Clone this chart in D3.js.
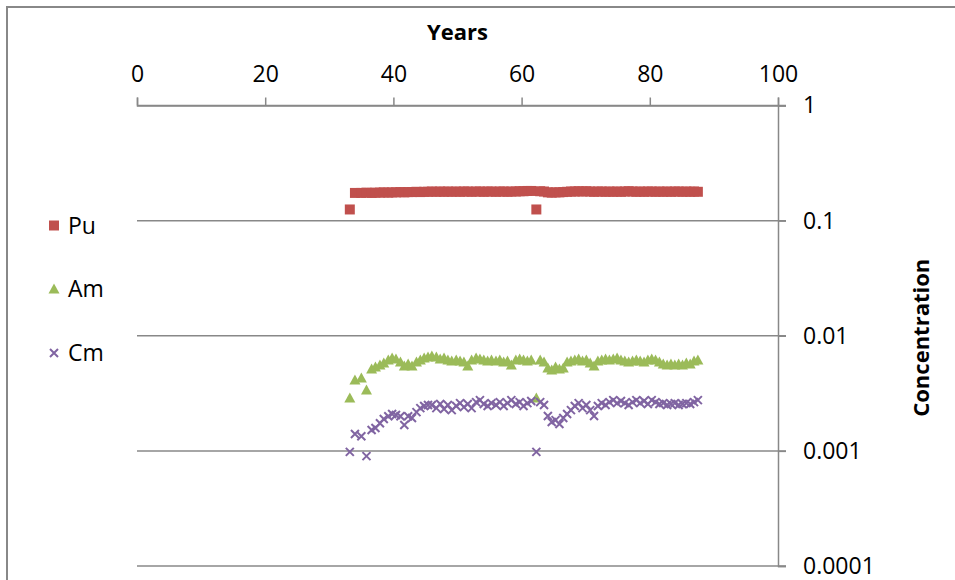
<!DOCTYPE html>
<html>
<head>
<meta charset="utf-8">
<script src="https://cdn.jsdelivr.net/npm/d3@7"></script>
<style>
  html, body { margin: 0; padding: 0; background: #fff; }
  svg { display: block; font-family: "Open Sans", "Liberation Sans", sans-serif; }
</style>
</head>
<body>
<svg id="chart" width="955" height="580"></svg>
<script>
// Sampling times (years)
const years = [
  33.2, 34.0, 35.0, 35.8, 36.6, 37.2, 37.9, 38.5, 39.2, 39.8,
  40.4, 41.1, 41.7, 42.3, 42.9, 43.6, 44.2, 44.8, 45.4, 46.0,
  46.7, 47.3, 47.9, 48.5, 49.1, 49.8, 50.4, 51.0, 51.6, 52.2,
  52.9, 53.5, 54.1, 54.7, 55.3, 56.0, 56.6, 57.2, 57.8, 58.4,
  59.1, 59.7, 60.3, 60.9, 61.5, 62.3, 62.9, 63.5, 64.1, 64.7,
  65.3, 65.9, 66.5, 67.1, 67.7, 68.3, 68.9, 69.5, 70.1, 70.7,
  71.3, 71.9, 72.5, 73.1, 73.7, 74.3, 74.9, 75.5, 76.1, 76.7,
  77.3, 77.9, 78.5, 79.1, 79.7, 80.3, 80.9, 81.5, 82.1, 82.7,
  83.3, 83.9, 84.5, 85.1, 85.7, 86.3, 86.9, 87.5
];

const pu = [
  0.125, 0.174, 0.174, 0.175, 0.174, 0.175, 0.175, 0.176, 0.175, 0.176,
  0.176, 0.177, 0.176, 0.177, 0.177, 0.178, 0.177, 0.178, 0.178, 0.179,
  0.178, 0.179, 0.178, 0.179, 0.178, 0.179, 0.178, 0.179, 0.179, 0.178,
  0.179, 0.179, 0.178, 0.179, 0.179, 0.178, 0.179, 0.179, 0.178, 0.179,
  0.179, 0.180, 0.180, 0.181, 0.181, 0.125, 0.180, 0.179, 0.176, 0.175,
  0.176, 0.176, 0.177, 0.178, 0.179, 0.179, 0.180, 0.179, 0.180, 0.179,
  0.178, 0.179, 0.179, 0.178, 0.179, 0.178, 0.179, 0.178, 0.179, 0.180,
  0.179, 0.178, 0.179, 0.178, 0.179, 0.179, 0.178, 0.179, 0.178, 0.179,
  0.178, 0.179, 0.179, 0.178, 0.179, 0.178, 0.179, 0.178
];

const am = [
  0.00288, 0.00412, 0.00429, 0.00338, 0.00514, 0.00535, 0.00557, 0.00579, 0.00615, 0.00640,
  0.00627, 0.00591, 0.00546, 0.00568, 0.00546, 0.00591, 0.00615, 0.00640, 0.00653, 0.00666,
  0.00653, 0.00627, 0.00640, 0.00615, 0.00603, 0.00615, 0.00603, 0.00591, 0.00546, 0.00615,
  0.00640, 0.00627, 0.00615, 0.00603, 0.00615, 0.00603, 0.00615, 0.00591, 0.00603, 0.00557,
  0.00615, 0.00627, 0.00615, 0.00603, 0.00615, 0.00288, 0.00615, 0.00591, 0.00524, 0.00504,
  0.00535, 0.00514, 0.00524, 0.00591, 0.00603, 0.00615, 0.00627, 0.00603, 0.00615, 0.00579,
  0.00546, 0.00603, 0.00615, 0.00627, 0.00615, 0.00627, 0.00640, 0.00615, 0.00603, 0.00591,
  0.00603, 0.00615, 0.00603, 0.00591, 0.00615, 0.00627, 0.00615, 0.00591, 0.00568, 0.00557,
  0.00568, 0.00557, 0.00568, 0.00557, 0.00579, 0.00568, 0.00603, 0.00615
];

const cm = [
  0.00098, 0.00140, 0.00134, 0.00090, 0.00152, 0.00158, 0.00174, 0.00189, 0.00200, 0.00209,
  0.00205, 0.00200, 0.00168, 0.00200, 0.00193, 0.00217, 0.00235, 0.00245, 0.00250, 0.00250,
  0.00235, 0.00255, 0.00231, 0.00250, 0.00226, 0.00245, 0.00260, 0.00240, 0.00255, 0.00235,
  0.00265, 0.00276, 0.00255, 0.00245, 0.00260, 0.00250, 0.00265, 0.00245, 0.00260, 0.00276,
  0.00255, 0.00265, 0.00245, 0.00260, 0.00271, 0.00098, 0.00265, 0.00250, 0.00201, 0.00178,
  0.00185, 0.00171, 0.00193, 0.00209, 0.00226, 0.00245, 0.00260, 0.00235, 0.00250, 0.00226,
  0.00201, 0.00245, 0.00260, 0.00250, 0.00265, 0.00276, 0.00260, 0.00271, 0.00260, 0.00250,
  0.00265, 0.00276, 0.00260, 0.00271, 0.00255, 0.00276, 0.00265, 0.00255, 0.00260, 0.00250,
  0.00255, 0.00260, 0.00250, 0.00255, 0.00260, 0.00255, 0.00265, 0.00276
];

const xTicks = [0, 20, 40, 60, 80, 100];
const yTicks = [1, 0.1, 0.01, 0.001, 0.0001];
const yTickLabels = ["1", "0.1", "0.01", "0.001", "0.0001"];

const seriesNames = ["Pu", "Am", "Cm"];
const seriesColors = ["#C0504D", "#9BBB59", "#8064A2"];
const seriesValues = [pu, am, cm];

const svg = d3.select("#chart");
const axisColor = "#888888";

// Outer chart frame
svg.append("rect")
  .attr("x", 7).attr("y", 7)
  .attr("width", 1200).attr("height", 1200)
  .attr("fill", "none")
  .attr("stroke", axisColor)
  .attr("stroke-width", 2);

const x = d3.scaleLinear().domain([0, 100]).range([137, 778]);
const y = d3.scaleLog().domain([1, 0.0001]).range([105.5, 566]);

// Horizontal gridlines at each decade
svg.append("g")
  .selectAll("line")
  .data(yTicks)
  .join("line")
  .attr("x1", x(0))
  .attr("x2", x(100) + 8)
  .attr("y1", d => y(d))
  .attr("y2", d => y(d))
  .attr("stroke", axisColor)
  .attr("stroke-width", 1.5);

// Years axis along the top
const xAxis = svg.append("g")
  .attr("transform", `translate(0,${y(1)})`)
  .call(d3.axisTop(x).tickValues(xTicks).tickFormat(d3.format("d")).tickSize(8).tickPadding(16));

// Concentration axis on the right
const yAxis = svg.append("g")
  .attr("transform", `translate(${x(100)},0)`)
  .call(d3.axisRight(y).tickValues(yTicks)
    .tickFormat((d, i) => yTickLabels[i]).tickSize(8).tickPadding(17));

[xAxis, yAxis].forEach(g => {
  g.selectAll("path, line").attr("stroke", axisColor).attr("stroke-width", 1.5);
  g.selectAll("text").attr("fill", "#000").style("font-size", "23px")
    .style("font-family", "'Open Sans', 'Liberation Sans', sans-serif");
});

// Axis titles
svg.append("text")
  .attr("x", x(50)).attr("y", 40)
  .attr("text-anchor", "middle")
  .style("font-size", "22px").style("font-weight", "bold")
  .text("Years");

svg.append("text")
  .attr("transform", `translate(929,${(y(1) + y(0.0001)) / 2 + 2}) rotate(-90)`)
  .attr("text-anchor", "middle")
  .style("font-size", "22px").style("font-weight", "bold")
  .text("Concentration");

// Marker shapes
const markerPath = [
  () => "M-5,-5H5V5H-5Z",
  () => "M0,-5.5L5.5,4.5H-5.5Z",
  () => "M-4,-4L4,4M4,-4L-4,4"
];

function styleMarker(sel, i) {
  if (i === 2) {
    sel.attr("fill", "none").attr("stroke", seriesColors[i]).attr("stroke-width", 2);
  } else {
    sel.attr("fill", seriesColors[i]).attr("stroke", "none");
  }
}

// Data points
seriesValues.forEach((vals, i) => {
  const pts = years.map((yr, k) => ({ yr, v: vals[k] })).filter(d => d.v != null);
  svg.append("g")
    .selectAll("path")
    .data(pts)
    .join("path")
    .attr("d", markerPath[i]())
    .attr("transform", d => `translate(${x(d.yr)},${y(d.v)})`)
    .call(styleMarker, i);
});

// Legend
const legendY = [225.5, 289, 353];
seriesNames.forEach((name, i) => {
  const g = svg.append("g").attr("transform", `translate(54,${legendY[i]})`);
  g.append("path").attr("d", markerPath[i]()).call(styleMarker, i);
  g.append("text")
    .attr("x", 14).attr("dy", "0.35em")
    .style("font-size", "23px")
    .text(name);
});
</script>
</body>
</html>
